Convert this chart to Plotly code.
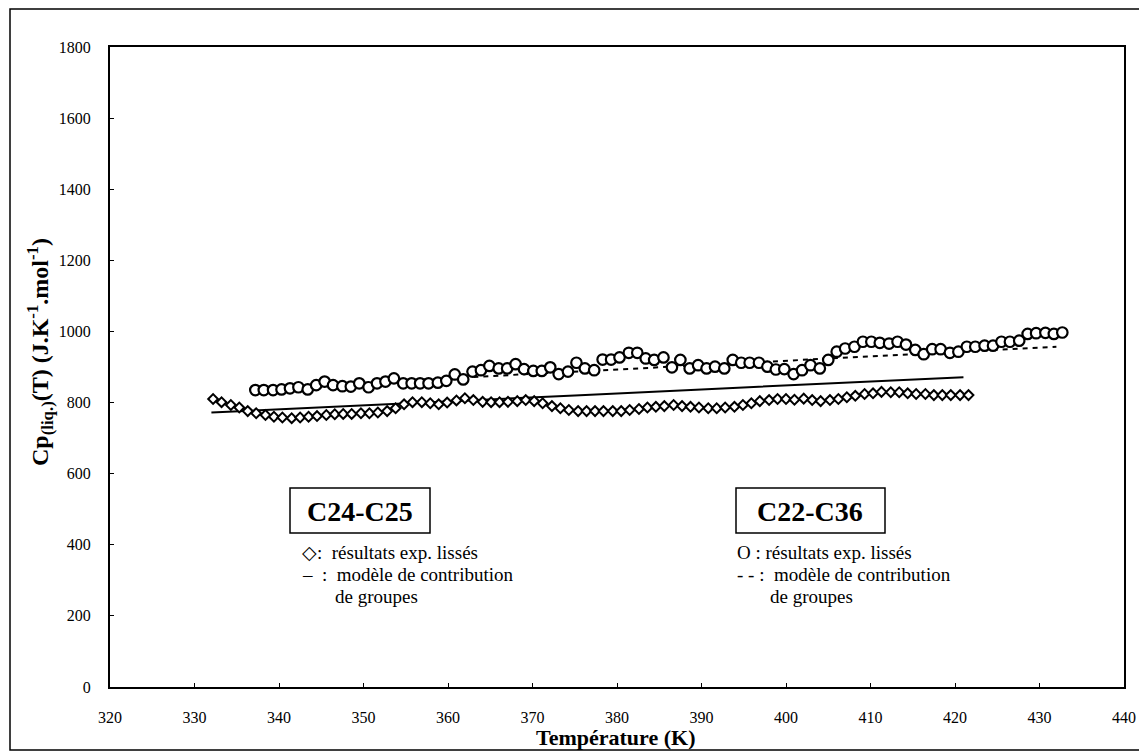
import plotly.graph_objects as go

# C24-C25 : smoothed experimental results (diamonds)
t_c24 = [332.2, 333.2, 334.3, 335.3, 336.3, 337.3, 338.4, 339.4, 340.4, 341.5,
         342.5, 343.5, 344.5, 345.6, 346.6, 347.6, 348.6, 349.7, 350.7, 351.7,
         352.8, 353.8, 354.8, 355.8, 356.9, 357.9, 358.9, 359.9, 361.0, 362.0,
         363.0, 364.1, 365.1, 366.1, 367.1, 368.2, 369.2, 370.2, 371.2, 372.3,
         373.3, 374.3, 375.4, 376.4, 377.4, 378.4, 379.5, 380.5, 381.5, 382.6,
         383.6, 384.6, 385.6, 386.7, 387.7, 388.7, 389.7, 390.8, 391.8, 392.8,
         393.9, 394.9, 395.9, 396.9, 398.0, 399.0, 400.0, 401.0, 402.1, 403.1,
         404.1, 405.2, 406.2, 407.2, 408.2, 409.3, 410.3, 411.3, 412.4, 413.4,
         414.4, 415.4, 416.5, 417.5, 418.5, 419.5, 420.6, 421.6]
cp_c24 = [810, 801, 793, 786, 776, 770, 765, 760, 758, 756,
          758, 760, 762, 765, 767, 768, 768, 770, 770, 772,
          776, 784, 795, 801, 801, 798, 795, 800, 806, 812,
          807, 802, 801, 801, 802, 804, 807, 804, 798, 790,
          784, 779, 776, 776, 776, 776, 776, 776, 779, 782,
          786, 788, 790, 793, 790, 788, 786, 784, 784, 786,
          788, 793, 798, 804, 807, 810, 810, 808, 811, 807,
          804, 807, 810, 815, 819, 824, 826, 830, 829, 829,
          826, 824, 824, 821, 821, 821, 821, 821]

# C24-C25 : group contribution model (solid line)
t_c24_model = [332, 345, 360, 375, 390, 405, 421]
cp_c24_model = [772, 786, 803, 820, 837, 854, 871]

# C22-C36 : smoothed experimental results (circles)
t_c22 = [337.2, 338.2, 339.3, 340.3, 341.3, 342.3, 343.4, 344.4, 345.4, 346.4,
         347.5, 348.5, 349.5, 350.6, 351.6, 352.6, 353.6, 354.7, 355.7, 356.7,
         357.7, 358.8, 359.8, 360.8, 361.8, 362.9, 363.9, 364.9, 366.0, 367.0,
         368.0, 369.0, 370.1, 371.1, 372.1, 373.1, 374.2, 375.2, 376.2, 377.3,
         378.3, 379.3, 380.3, 381.4, 382.4, 383.4, 384.4, 385.5, 386.5, 387.5,
         388.6, 389.6, 390.6, 391.6, 392.7, 393.7, 394.7, 395.7, 396.8, 397.8,
         398.8, 399.8, 400.9, 401.9, 402.9, 404.0, 405.0, 406.0, 407.0, 408.1,
         409.1, 410.1, 411.1, 412.2, 413.2, 414.2, 415.3, 416.3, 417.3, 418.3,
         419.4, 420.4, 421.4, 422.4, 423.5, 424.5, 425.5, 426.5, 427.6, 428.6,
         429.6, 430.7, 431.7, 432.7]
cp_c22 = [835, 835, 835, 837, 840, 843, 837, 849, 859, 849,
          846, 845, 854, 843, 854, 859, 868, 854, 854, 854,
          854, 856, 861, 879, 865, 887, 891, 903, 896, 896,
          908, 894, 889, 889, 899, 880, 887, 912, 896, 891,
          921, 921, 927, 940, 940, 924, 920, 927, 899, 920,
          896, 905, 896, 901, 896, 920, 912, 912, 912, 901,
          893, 894, 880, 891, 905, 896, 920, 943, 952, 957,
          971, 971, 968, 966, 971, 963, 948, 936, 950, 950,
          940, 943, 957, 957, 960, 960, 971, 971, 974, 993,
          995, 996, 993, 997]

# C22-C36 : group contribution model (dashed line)
t_c22_model = [337, 432]
cp_c22_model = [840, 957]

x_ticks = [320, 330, 340, 350, 360, 370, 380, 390, 400, 410, 420, 430, 440]
y_ticks = [0, 200, 400, 600, 800, 1000, 1200, 1400, 1600, 1800]

SERIF = "Liberation Serif, Times New Roman, serif"

fig = go.Figure()
fig.add_trace(go.Scatter(x=t_c24_model, y=cp_c24_model, mode="lines",
                         line=dict(color="black", width=2), showlegend=False))
fig.add_trace(go.Scatter(x=t_c22_model, y=cp_c22_model, mode="lines",
                         line=dict(color="black", width=2, dash="5px,5px"), showlegend=False))
fig.add_trace(go.Scatter(x=t_c24, y=cp_c24, mode="markers",
                         marker=dict(symbol="diamond", size=7.5, color="white",
                                     line=dict(color="black", width=2)),
                         showlegend=False))
fig.add_trace(go.Scatter(x=t_c22, y=cp_c22, mode="markers",
                         marker=dict(symbol="circle", size=10.5, color="white",
                                     line=dict(color="black", width=2.2)),
                         showlegend=False))

# page offset of the figure inside the html body
OFF = 8
W, H = 1147, 755
# plot area in page pixels
P_L, P_R, P_T, P_B = 110, 1124, 47, 687
L, T = P_L - OFF, P_T - OFF
pw, ph = P_R - P_L, P_B - P_T
R = W - L - pw
B = H - T - ph


def px(x):
    return (x - P_L) / pw


def py(y):
    return (P_B - y) / ph


annotations = [
    dict(text="<b>C24-C25</b>", x=px(360), y=py(511), font=dict(size=28)),
    dict(text="<b>C22-C36</b>", x=px(810), y=py(511), font=dict(size=28)),
    dict(text="\u25c7:  résultats exp. lissés", x=px(300), y=py(552), xanchor="left"),
    dict(text="\u2013  :  modèle de contribution", x=px(300), y=py(574), xanchor="left"),
    dict(text="de groupes", x=px(333), y=py(596), xanchor="left"),
    dict(text="O : résultats exp. lissés", x=px(735), y=py(552), xanchor="left"),
    dict(text="- - :  modèle de contribution", x=px(735), y=py(574), xanchor="left"),
    dict(text="de groupes", x=px(768), y=py(596), xanchor="left"),
    dict(text="<b>Température (K)</b>", x=px(615), y=py(737), font=dict(size=22)),
    dict(text="<b>Cp<sub>(liq.)</sub>(T) (J.K<sup>-1</sup>.mol<sup>-1</sup>)</b>",
         x=px(40), y=py(352), textangle=-90, font=dict(size=24)),
]
for a in annotations:
    a.setdefault("xanchor", "center")
    a.setdefault("font", dict(size=19))
    a["font"]["family"] = SERIF
    a["font"]["color"] = "black"
    a.update(xref="paper", yref="paper", yanchor="middle", showarrow=False)

shapes = [
    dict(type="rect", xref="paper", yref="paper", x0=px(290), x1=px(430), y0=py(533), y1=py(488),
         line=dict(color="black", width=1.5)),
    dict(type="rect", xref="paper", yref="paper", x0=px(736), x1=px(885), y0=py(533), y1=py(488),
         line=dict(color="black", width=1.5)),
    dict(type="rect", xref="paper", yref="paper", x0=px(10), x1=px(1140), y0=py(750), y1=py(9),
         line=dict(color="black", width=1.5)),
]

fig.update_layout(
    width=W, height=H,
    margin=dict(l=L, r=R, t=T, b=B),
    paper_bgcolor="white", plot_bgcolor="white",
    font=dict(family=SERIF, color="black", size=16),
    annotations=annotations,
    shapes=shapes,
    xaxis=dict(range=[320, 440], tickvals=x_ticks, ticktext=[str(v) for v in x_ticks],
               showgrid=False, zeroline=False, showline=True, linecolor="black", linewidth=2,
               mirror=True, ticks="inside", ticklen=4, tickcolor="black",
               ticklabelstandoff=15, tickfont=dict(size=16)),
    yaxis=dict(range=[0, 1800], tickvals=y_ticks, ticktext=[str(v) for v in y_ticks],
               showgrid=False, zeroline=False, showline=True, linecolor="black", linewidth=2,
               mirror=True, ticks="inside", ticklen=4, tickcolor="black",
               ticklabelstandoff=14, tickfont=dict(size=16)),
)

fig.write_html("out.html")
